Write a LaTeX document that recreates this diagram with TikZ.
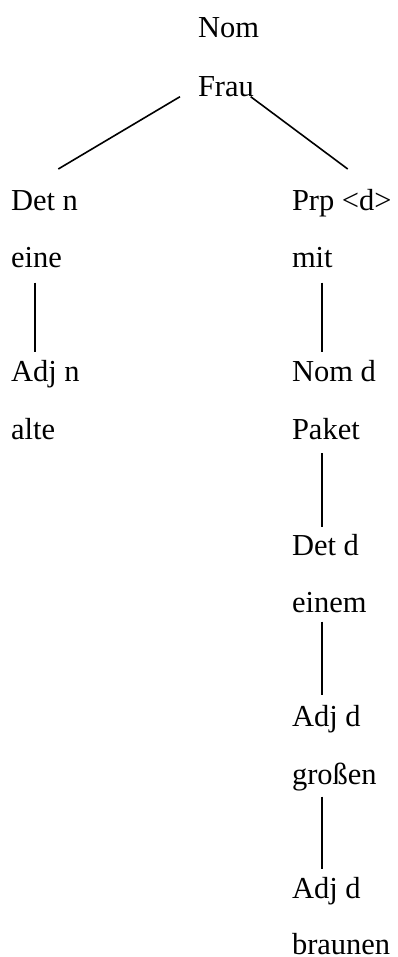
\documentclass[tikz,border=0pt]{standalone}
\usepackage{fontspec}
\setmainfont{Liberation Serif}
\begin{document}
\begin{tikzpicture}[x=1pt,y=1pt,
  lbl/.style={anchor=base west,inner sep=0pt,outer sep=0pt,font=\fontsize{30.5}{36}\selectfont},
  edge/.style={line width=1.6pt,black}]
\useasboundingbox (0,0) rectangle (397,-957);
\node[lbl] (nom) at (198,-37.7) {Nom};
\node[lbl] (frau) at (198,-96.7) {Frau};
\node[lbl] (detn) at (11,-211) {Det n};
\node[lbl] (eine) at (11,-268) {eine};
\node[lbl] (adjn) at (11,-381.7) {Adj n};
\node[lbl] (alte) at (11,-439.3) {alte};
\node[lbl] (prp) at (292,-211) {Prp <d>};
\node[lbl] (mit) at (292,-268) {mit};
\node[lbl] (nomd) at (292,-381.7) {Nom d};
\node[lbl] (paket) at (292,-439.3) {Paket};
\node[lbl] (detd) at (292,-555) {Det d};
\node[lbl] (einem) at (292,-612.3) {einem};
\node[lbl] (adjd1) at (292,-726.7) {Adj d};
\node[lbl] (grossen) at (292,-784) {großen};
\node[lbl] (adjd2) at (292,-898.3) {Adj d};
\node[lbl] (braunen) at (292,-954) {braunen};
\draw[edge] ([shift={(-18,0)}]frau.base west) -- ([shift={(47.3,42)}]detn.base west);
\draw[edge] ([shift={(52.7,0)}]frau.base west) -- ([shift={(55.7,42)}]prp.base west);
\draw[edge] ([shift={(24,-14.7)}]eine.base west) -- ([shift={(24,30)}]adjn.base west);
\draw[edge] ([shift={(29.7,-14.7)}]mit.base west) -- ([shift={(29.7,30)}]nomd.base west);
\draw[edge] ([shift={(29.7,-14)}]paket.base west) -- ([shift={(29.7,28.3)}]detd.base west);
\draw[edge] ([shift={(29.7,-9.4)}]einem.base west) -- ([shift={(29.7,31.7)}]adjd1.base west);
\draw[edge] ([shift={(29.7,-12.7)}]grossen.base west) -- ([shift={(29.7,29)}]adjd2.base west);
\end{tikzpicture}
\end{document}
